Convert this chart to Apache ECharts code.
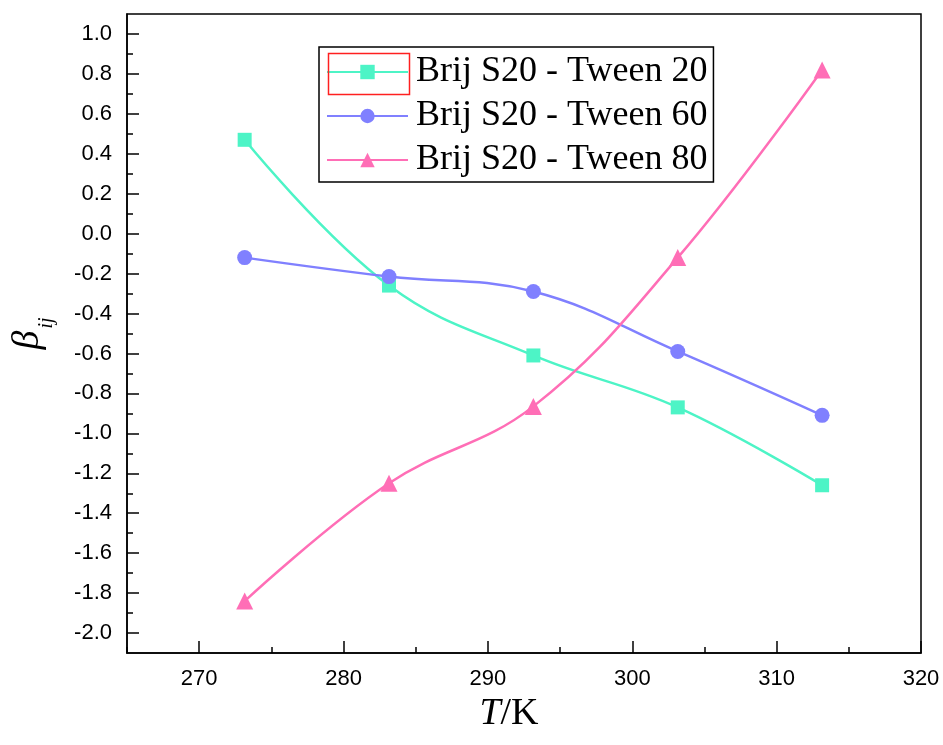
<!DOCTYPE html>
<html>
<head>
<meta charset="utf-8">
<script src="https://cdn.jsdelivr.net/npm/echarts@6/dist/echarts.min.js"></script>
<style>
html,body{margin:0;padding:0;background:#fff;}
#main{width:943px;height:745px;}
</style>
</head>
<body>
<div id="main"></div>
<script>
// Data
const temperatures = [273.15, 283.15, 293.15, 303.15, 313.15];
const seriesNames = ['Brij S20 - Tween 20', 'Brij S20 - Tween 60', 'Brij S20 - Tween 80'];
const tween20 = [0.47, -0.26, -0.61, -0.87, -1.26];
const tween60 = [-0.12, -0.215, -0.29, -0.59, -0.91];
const tween80 = [-1.84, -1.25, -0.865, -0.12, 0.82];
const xMajorTicks = [270, 280, 290, 300, 310, 320];
const xMinorTicks = [265, 275, 285, 295, 305, 315];
const yMajorTicks = [-2.0, -1.8, -1.6, -1.4, -1.2, -1.0, -0.8, -0.6, -0.4, -0.2, 0.0, 0.2, 0.4, 0.6, 0.8, 1.0];
const yMinorTicks = [-1.9, -1.7, -1.5, -1.3, -1.1, -0.9, -0.7, -0.5, -0.3, -0.1, 0.1, 0.3, 0.5, 0.7, 0.9];

const colors = ['#4DF4C6', '#8080FF', '#FF6EB6'];
const symbols = ['rect', 'circle', 'triangle'];
const symbolSizes = [14, 15, 17];
const allData = [tween20, tween60, tween80];

const chart = echarts.init(document.getElementById('main'), null, {renderer: 'canvas'});

const series = allData.map((vals, i) => ({
  name: seriesNames[i],
  type: 'line',
  xAxisIndex: 0,
  yAxisIndex: 0,
  data: temperatures.map((t, k) => [t, vals[k]]),
  smooth: 0.4,
  symbol: symbols[i],
  symbolSize: symbolSizes[i],
  showAllSymbol: true,
  lineStyle: {color: colors[i], width: 2.5},
  itemStyle: {color: colors[i]},
  emphasis: {disabled: true},
  animation: false,
  z: 3 + i
}));

const labelFont = {fontFamily: 'Liberation Sans, Arial, sans-serif', fontSize: 22, color: '#000'};

chart.setOption({
  animation: false,
  backgroundColor: '#fff',
  grid: {
    left: 127, right: 22, top: 14, bottom: 92,
    containLabel: false,
    outerBoundsMode: 'none',
    show: true, borderColor: '#000', borderWidth: 1.5, backgroundColor: 'transparent'
  },
  xAxis: [
    {
      type: 'value', min: 265, max: 320,
      axisLine: {show: true, onZero: false, lineStyle: {color: '#000', width: 1.5}},
      axisTick: {show: true, inside: true, length: 12, customValues: xMajorTicks, lineStyle: {color: '#000', width: 1.5}},
      axisLabel: Object.assign({customValues: xMajorTicks, margin: 15, formatter: v => String(Math.round(v))}, labelFont),
      splitLine: {show: false},
      name: '{i|T}{n|/K}',
      nameLocation: 'middle',
      nameGap: 42,
      nameTextStyle: {
        padding: [0, 30, 0, 0],
        rich: {
          i: {fontFamily: 'Liberation Serif, Times New Roman, serif', fontStyle: 'italic', fontSize: 38, color: '#000'},
          n: {fontFamily: 'Liberation Serif, Times New Roman, serif', fontSize: 38, color: '#000'}
        }
      }
    },
    {
      type: 'value', min: 265, max: 320, gridIndex: 0, position: 'bottom',
      axisLine: {show: false, onZero: false},
      axisTick: {show: true, inside: true, length: 6, customValues: xMinorTicks, lineStyle: {color: '#000', width: 1.5}},
      axisLabel: {show: false},
      splitLine: {show: false}
    }
  ],
  yAxis: [
    {
      type: 'value', min: -2.1, max: 1.1,
      axisLine: {show: true, onZero: false, lineStyle: {color: '#000', width: 1.5}},
      axisTick: {show: true, inside: true, length: 12, customValues: yMajorTicks, lineStyle: {color: '#000', width: 1.5}},
      axisLabel: Object.assign({customValues: yMajorTicks, margin: 15, formatter: v => v.toFixed(1)}, labelFont),
      splitLine: {show: false},
      name: '{b|β}{s|ij}',
      nameLocation: 'middle',
      nameRotate: 90,
      nameGap: 80,
      nameTextStyle: {
        rich: {
          b: {fontFamily: 'Liberation Serif, Times New Roman, serif', fontStyle: 'italic', fontSize: 38, color: '#000', lineHeight: 40, verticalAlign: 'bottom'},
          s: {fontFamily: 'Liberation Serif, Times New Roman, serif', fontStyle: 'italic', fontSize: 20, color: '#000', lineHeight: 40, verticalAlign: 'bottom', padding: [0, 0, -10, 2]}
        }
      }
    },
    {
      type: 'value', min: -2.1, max: 1.1, gridIndex: 0, position: 'left',
      axisLine: {show: false, onZero: false},
      axisTick: {show: true, inside: true, length: 6, customValues: yMinorTicks, lineStyle: {color: '#000', width: 1.5}},
      axisLabel: {show: false},
      splitLine: {show: false}
    }
  ],
  legend: {
    show: true,
    orient: 'vertical',
    left: 319, top: 47,
    padding: [7, 6, 4, 7],
    itemGap: 8,
    itemWidth: 81,
    itemHeight: 18,
    borderColor: '#000',
    borderWidth: 1.5,
    backgroundColor: '#fff',
    data: seriesNames,
    selectedMode: false,
    textStyle: {fontFamily: 'Liberation Serif, Times New Roman, serif', fontSize: 36, color: '#000', lineHeight: 36, padding: [0, 0, 0, 3]}
  },
  graphic: [
    {type: 'rect', left: 326, top: 51, shape: {width: 81, height: 41}, style: {fill: 'none', stroke: '#FF2020', lineWidth: 1.5}, z: 100}
  ],
  series: series
});
</script>
</body>
</html>
